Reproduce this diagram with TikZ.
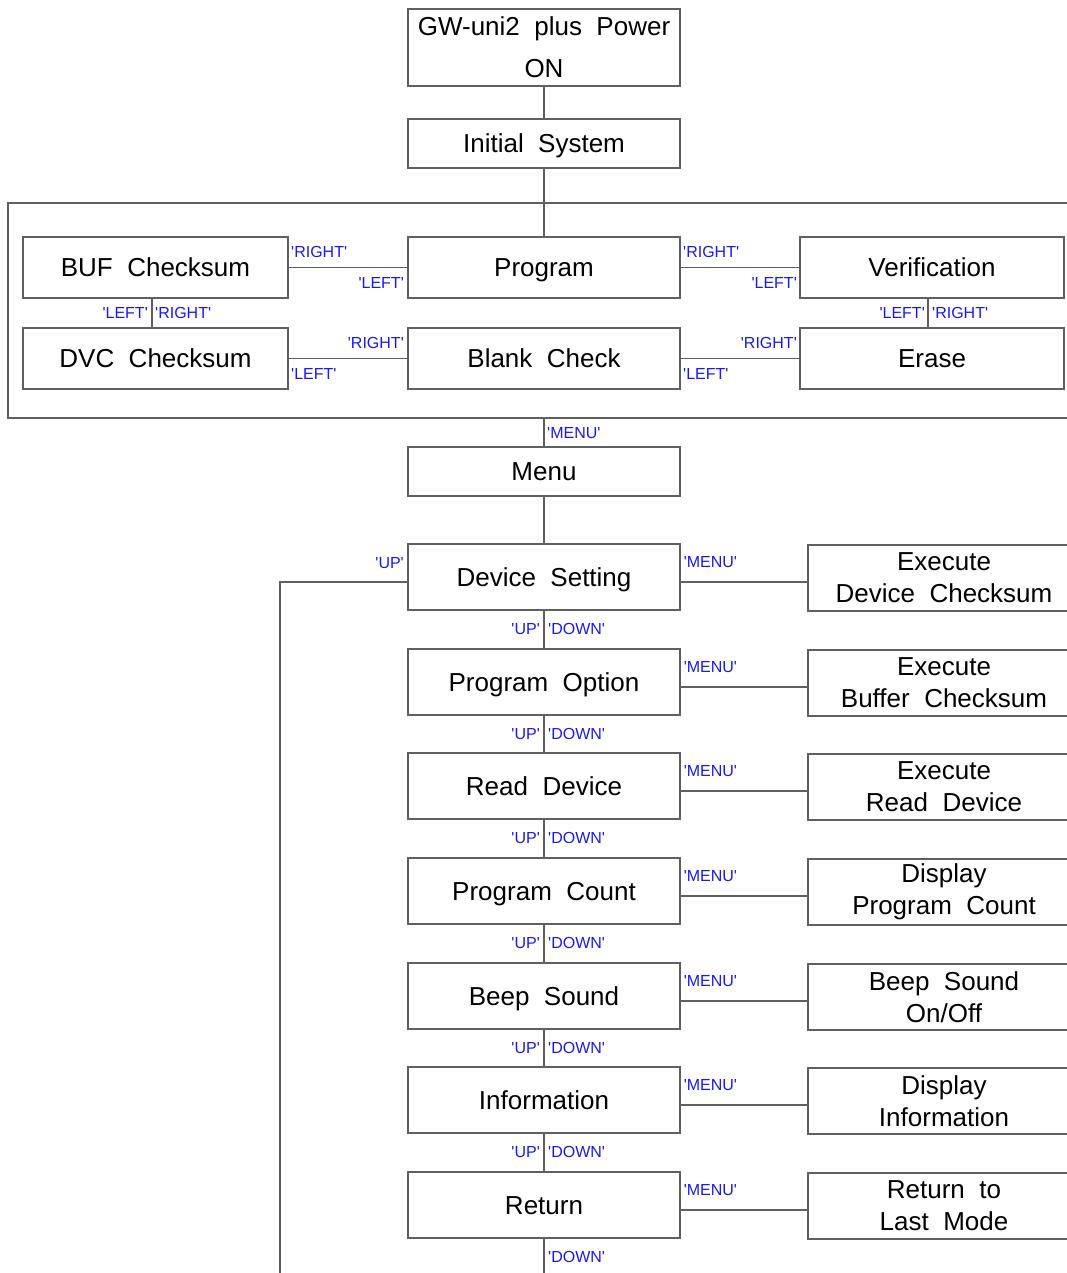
\documentclass[tikz,border=0pt]{standalone}
\usepackage{fontspec}
\setmainfont{Liberation Sans}
\definecolor{lblue}{RGB}{25,25,245}
\definecolor{lgray}{RGB}{95,95,95}
\newcommand{\keyq}[1]{\textquotesingle#1\textquotesingle}
\begin{document}
\begin{tikzpicture}[x=1pt,y=-1pt,
  box/.style={draw=lgray, line width=1.2pt, fill=white, minimum width=272pt, inner sep=0pt,
    font=\fontsize{26}{32}\selectfont, align=center, text=black},
  one/.style={text height=18.7pt, text depth=0pt},
  conn/.style={draw=lgray, line width=1.2pt},
  lab/.style={font=\fontsize{16}{18}\selectfont, text=lblue, inner sep=0pt}]
\useasboundingbox (0,0) rectangle (1067,1273);
\clip (0,0) rectangle (1067,1273);

% top chain
\node[box, minimum height=77pt, font=\fontsize{26}{42}\selectfont] (pwr) at (544,47.5) {GW-uni2~~plus~~Power\\ON};
\node[box, one, minimum height=49pt] (init) at (544,143.5) {Initial~~System};

% panel
\node[draw=lgray, line width=1.2pt, minimum width=1082pt, minimum height=215pt, inner sep=0pt] (panel) at (549,310.5) {};

\node[box, one, minimum width=265pt, minimum height=61pt] (buf) at (155.5,267.5) {BUF~~Checksum};
\node[box, one, minimum height=61pt] (prog) at (544,267.5) {Program};
\node[box, one, minimum width=264pt, minimum height=61pt] (ver) at (932,267.5) {Verification};
\node[box, one, minimum width=265pt, minimum height=61pt] (dvc) at (155.5,358.5) {DVC~~Checksum};
\node[box, one, minimum height=61pt] (blank) at (544,358.5) {Blank~~Check};
\node[box, one, minimum width=264pt, minimum height=61pt] (erase) at (932,358.5) {Erase};

\coordinate (v1) at (152,0);
\coordinate (v2) at (928,0);

\draw[conn] (pwr) -- (init);
\draw[conn] (init) -- (prog);
\draw[conn] (buf) -- (prog);
\draw[conn] (prog) -- (ver);
\draw[conn] (dvc) -- (blank);
\draw[conn] (blank) -- (erase);
\draw[conn] (buf.south -| v1) -- (dvc.north -| v1);
\draw[conn] (ver.south -| v2) -- (erase.north -| v2);

% panel labels
\node[lab, anchor=west] (l1) at (291,252) {\keyq{RIGHT}};
\node[lab, anchor=east] (l2) at (404,283) {\keyq{LEFT}};
\node[lab, anchor=west] (l3) at (683,252) {\keyq{RIGHT}};
\node[lab, anchor=east] (l4) at (797,283) {\keyq{LEFT}};
\node[lab, anchor=east] (l5) at (404,343) {\keyq{RIGHT}};
\node[lab, anchor=west] (l6) at (291,374) {\keyq{LEFT}};
\node[lab, anchor=east] (l7) at (797,343) {\keyq{RIGHT}};
\node[lab, anchor=west] (l8) at (683,374) {\keyq{LEFT}};
\node[lab, anchor=east] (l9) at (148,313) {\keyq{LEFT}};
\node[lab, anchor=west] (l10) at (155,313) {\keyq{RIGHT}};
\node[lab, anchor=east] (l11) at (925,313) {\keyq{LEFT}};
\node[lab, anchor=west] (l12) at (932,313) {\keyq{RIGHT}};

% menu
\node[box, one, minimum height=49pt] (menu) at (544,471.5) {Menu};
\draw[conn] (menu.north |- panel.south) -- (menu.north);
\node[lab, anchor=west] (lmenu) at (547,433) {\keyq{MENU}};

% menu column
\node[box, one, minimum height=66pt] (ds) at (544,577) {Device~~Setting};
\node[box, one, minimum height=66pt] (po) at (544,682) {Program~~Option};
\node[box, one, minimum height=66pt] (rd) at (544,786) {Read~~Device};
\node[box, one, minimum height=66pt] (pc) at (544,891) {Program~~Count};
\node[box, one, minimum height=66pt] (bs) at (544,996) {Beep~~Sound};
\node[box, one, minimum height=66pt] (inf) at (544,1100) {Information};
\node[box, one, minimum height=66pt] (ret) at (544,1205) {Return};

\node[box, minimum height=66pt] (e1) at (944,578) {Execute\\Device~~Checksum};
\node[box, minimum height=66pt] (e2) at (944,683) {Execute\\Buffer~~Checksum};
\node[box, minimum height=66pt] (e3) at (944,787) {Execute\\Read~~Device};
\node[box, minimum height=66pt] (e4) at (944,892) {Display\\Program~~Count};
\node[box, minimum height=66pt] (e5) at (944,997) {Beep~~Sound\\On/Off};
\node[box, minimum height=66pt] (e6) at (944,1101) {Display\\Information};
\node[box, minimum height=66pt] (e7) at (944,1206) {Return~~to\\Last~~Mode};

\draw[conn] (menu) -- (ds);
\draw[conn] (ds) -- (po);
\draw[conn] (po) -- (rd);
\draw[conn] (rd) -- (pc);
\draw[conn] (pc) -- (bs);
\draw[conn] (bs) -- (inf);
\draw[conn] (inf) -- (ret);

\foreach \n/\e in {ds/e1, po/e2, rd/e3, pc/e4, bs/e5, inf/e6, ret/e7} {
  \draw[conn] ([yshift=-5pt]\n.east) -- ([yshift=-5pt]\n.east -| \e.west);
  \node[lab, anchor=west] (\n-m) at ([xshift=3pt,yshift=14.5pt]\n.east) {\keyq{MENU}};
}
\foreach \n in {ds, po, rd, pc, bs, inf} {
  \node[lab, anchor=east] (\n-u) at ([xshift=-4pt,yshift=-52pt]\n.center) {\keyq{UP}};
  \node[lab, anchor=west] (\n-d) at ([xshift=4pt,yshift=-52pt]\n.center) {\keyq{DOWN}};
}
\node[lab, anchor=west] (ret-d) at ([xshift=4pt,yshift=-52pt]ret.center) {\keyq{DOWN}};

\coordinate (bot) at (544,1273);
\draw[conn] (ret) -- (bot);
\coordinate (fb) at (280,1273);
\draw[conn] ([yshift=-5pt]ds.west) -| (fb);
\node[lab, anchor=east] (lup) at (404,563) {\keyq{UP}};
\end{tikzpicture}
\end{document}
